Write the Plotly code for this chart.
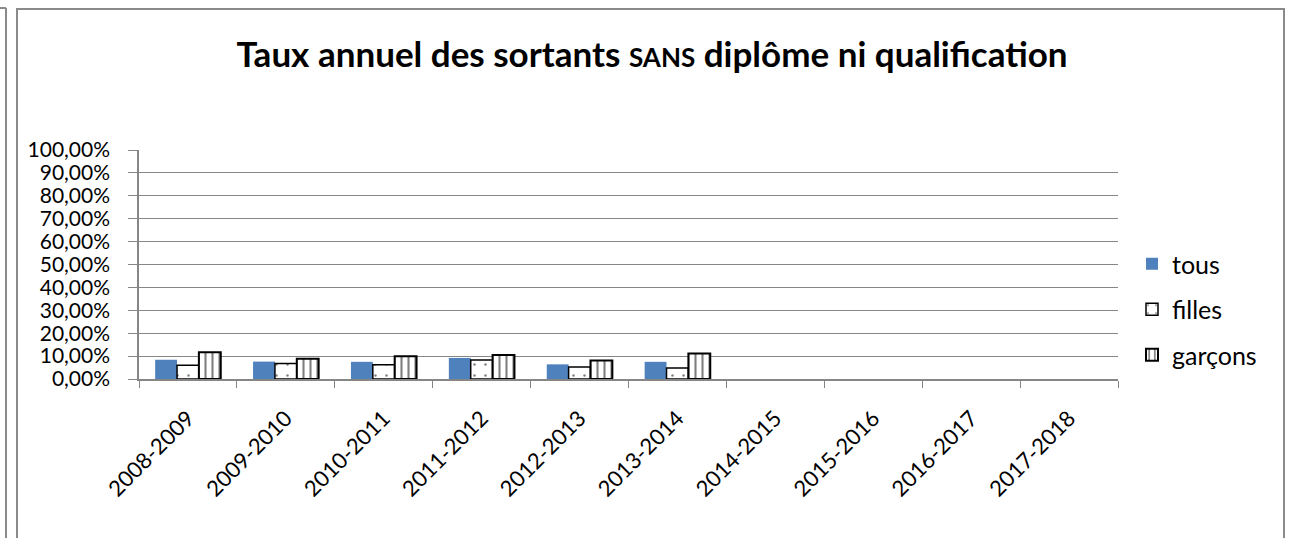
import plotly.graph_objects as go

categories = ["2008-2009", "2009-2010", "2010-2011", "2011-2012", "2012-2013",
              "2013-2014", "2014-2015", "2015-2016", "2016-2017", "2017-2018"]
tous = [0.084, 0.076, 0.075, 0.092, 0.064, 0.075, None, None, None, None]
filles = [0.060, 0.068, 0.062, 0.083, 0.052, 0.048, None, None, None, None]
garcons = [0.117, 0.088, 0.099, 0.105, 0.081, 0.111, None, None, None, None]
y_tickvals = [i / 10 for i in range(11)]
y_ticktext = ["0,00%", "10,00%", "20,00%", "30,00%", "40,00%", "50,00%",
              "60,00%", "70,00%", "80,00%", "90,00%", "100,00%"]

FONT = "Lato, 'Open Sans', sans-serif"

fig = go.Figure()
fig.add_trace(go.Bar(
    x=categories, y=tous, name="tous", legendgroup="a",
    marker=dict(color="#4F81BD", line=dict(width=0)),
))
fig.add_trace(go.Bar(
    x=categories, y=filles, name="filles", legendgroup="b",
    marker=dict(color="white", line=dict(color="black", width=1.5),
                pattern=dict(shape=".", fgcolor="black", bgcolor="white",
                             size=11, solidity=0.04)),
))
fig.add_trace(go.Bar(
    x=categories, y=garcons, name="garçons", legendgroup="c",
    marker=dict(color="white", line=dict(color="black", width=2),
                pattern=dict(shape="|", fgcolor="black", bgcolor="white",
                             size=7, solidity=0.3)),
))

W, H = 1293, 538
L, R, T, B = 139, 1118, 150, 379


def px(x):
    return (x - L) / (R - L)


def py(y):
    return (B - y) / (B - T)


shapes = [
    dict(type="rect", xref="paper", yref="paper",
         x0=px(17), x1=px(1284), y0=py(560), y1=py(9),
         line=dict(color="#8a8a8a", width=2), fillcolor="rgba(0,0,0,0)", layer="below"),
    dict(type="line", xref="paper", yref="paper",
         x0=px(6), x1=px(6), y0=py(8), y1=py(560),
         line=dict(color="#8a8a8a", width=2)),
    dict(type="line", xref="paper", yref="paper",
         x0=px(-5), x1=px(6), y0=py(8), y1=py(8),
         line=dict(color="#8a8a8a", width=2)),
]

fig.update_layout(
    width=W, height=H,
    margin=dict(l=L, r=W - R, t=T, b=H - B, pad=0),
    paper_bgcolor="white", plot_bgcolor="white",
    barmode="group", bargap=0.33, bargroupgap=0,
    font=dict(family=FONT, color="black", size=21),
    title=dict(
        text="<b>Taux annuel des sortants <span style='font-size:26px'>SANS</span> diplôme ni qualification</b>",
        x=652 / W, xref="container", xanchor="center", y=1 - 55 / H,
        yanchor="middle", font=dict(family=FONT, size=35, color="black"),
    ),
    legend=dict(x=px(1132), xanchor="left", y=py(241), yanchor="top",
                font=dict(family=FONT, size=25, color="black"),
                tracegroupgap=10, bgcolor="rgba(0,0,0,0)"),
    shapes=shapes,
    showlegend=True,
)
fig.update_xaxes(
    type="category", tickangle=-45, tickson="boundaries",
    ticks="outside", ticklen=7, tickcolor="#868686",
    showline=True, linecolor="#868686", linewidth=1.5,
    showgrid=False, tickfont=dict(family=FONT, size=22, color="black"),
    ticklabelstandoff=16,
)
fig.update_yaxes(
    range=[0, 1], tickvals=y_tickvals, ticktext=y_ticktext,
    ticks="outside", ticklen=9, tickcolor="#868686",
    showline=True, linecolor="#868686", linewidth=1.5,
    showgrid=True, gridcolor="#868686", gridwidth=1.2,
    zeroline=False, tickfont=dict(family=FONT, size=21, color="black"),
    ticklabelstandoff=14,
)

fig.write_html("out.html", config={"displayModeBar": False},
               post_script="document.body.style.margin='0px';")
